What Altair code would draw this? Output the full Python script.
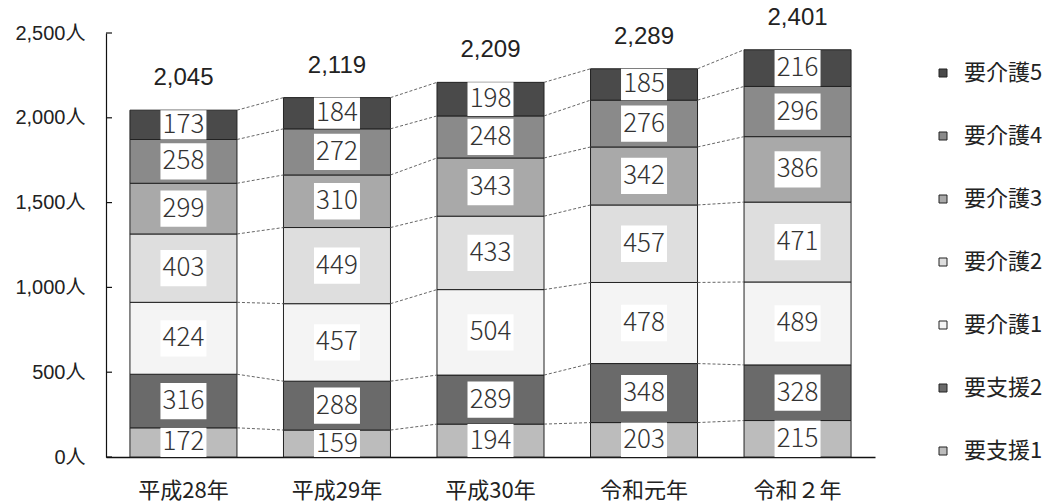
import altair as alt
import pandas as pd

categories = ["平成28年", "平成29年", "平成30年", "令和元年", "令和２年"]
series_names = ["要支援1", "要支援2", "要介護1", "要介護2", "要介護3", "要介護4", "要介護5"]
v_shien1 = [172, 159, 194, 203, 215]
v_shien2 = [316, 288, 289, 348, 328]
v_kaigo1 = [424, 457, 504, 478, 489]
v_kaigo2 = [403, 449, 433, 457, 471]
v_kaigo3 = [299, 310, 343, 342, 386]
v_kaigo4 = [258, 272, 248, 276, 296]
v_kaigo5 = [173, 184, 198, 185, 216]
y_ticks = [0, 500, 1000, 1500, 2000, 2500]
fills = ["#bcbcbc", "#6a6a6a", "#f4f4f4", "#dedede", "#a9a9a9", "#8a8a8a", "#4a4a4a"]

series_values = [v_shien1, v_shien2, v_kaigo1, v_kaigo2, v_kaigo3, v_kaigo4, v_kaigo5]

BOX_HALF = 107  # in data units

rows = []
cums = []
for i, c in enumerate(categories):
    cum = 0
    bounds = []
    for k, name in enumerate(series_names):
        v = series_values[k][i]
        lo, hi = cum, cum + v
        mid = (lo + hi) / 2
        rows.append(dict(cat=c, series=name, value=v, lo=lo, hi=hi, mid=mid,
                         blo=max(lo, mid - BOX_HALF), bhi=min(hi, mid + BOX_HALF), ord=k))
        cum = hi
        bounds.append(hi)
    cums.append(bounds)
df = pd.DataFrame(rows)

tot = pd.DataFrame(dict(cat=categories, total=[b[-1] for b in cums]))
tot["label"] = tot["total"].map(lambda t: f"{t:,}")

conn = []
for i in range(len(categories) - 1):
    for k in range(len(series_names)):
        conn.append(dict(cat=categories[i], nxt=categories[i + 1], y=cums[i][k], y2=cums[i + 1][k]))
conn = pd.DataFrame(conn)

ticks = pd.DataFrame(dict(v=y_ticks))

FONT = "Liberation Sans, Noto Sans CJK JP, sans-serif"

xscale = alt.Scale(domain=categories, paddingInner=0.303, paddingOuter=0.156)
yscale = alt.Scale(domain=[0, 2500], nice=False)

legend_order = series_names[::-1]
color = alt.Color("series:N",
                  scale=alt.Scale(domain=legend_order, range=fills[::-1]),
                  legend=alt.Legend(title=None, orient="none", legendX=826, legendY=29,
                                    symbolType="square", symbolSize=64,
                                    symbolStrokeColor="#222", symbolStrokeWidth=1,
                                    labelFontSize=22, labelFont="Noto Sans CJK JP",
                                    labelColor="#222", labelOffset=10, rowPadding=41,
                                    padding=0))

x_enc = alt.X("cat:N", scale=xscale, sort=categories,
              axis=alt.Axis(title=None, labelAngle=0, ticks=False, tickSize=0, bandPosition=0.5,
                            labelFontSize=22, labelFont="Noto Sans CJK JP",
                            labelColor="#222", labelPadding=33, labelBaseline="middle",
                            labelAlign="center",
                            domainColor="#111", domainWidth=1.5))

bars = alt.Chart(df).mark_bar(stroke="#222", strokeWidth=1).encode(
    x=x_enc,
    y=alt.Y("lo:Q", scale=yscale,
            axis=alt.Axis(title=None, values=y_ticks, grid=False, ticks=False, tickSize=0,
                          labelExpr="format(datum.value, ',') + '人'",
                          labelFontSize=20, labelFont=FONT, labelColor="#222",
                          labelPadding=21, domainColor="#111", domainWidth=1.2)),
    y2="hi:Q",
    fill=color,
)

boxes = alt.Chart(df).mark_bar(width=46, fill="white", strokeWidth=0).encode(
    x=alt.X("cat:N", scale=xscale, sort=categories),
    y=alt.Y("blo:Q", scale=yscale),
    y2="bhi:Q",
)

seg_labels = alt.Chart(df).mark_text(fontSize=26, font="Noto Sans CJK JP", fontWeight=300,
                                     color="#333", baseline="middle").encode(
    x=alt.X("cat:N", scale=xscale, sort=categories),
    y=alt.Y("mid:Q", scale=yscale),
    text="value:Q",
)

connectors = alt.Chart(conn).mark_rule(stroke="#555", strokeWidth=0.9, strokeDash=[3, 2]).encode(
    x=alt.X("cat:N", scale=xscale, sort=categories, bandPosition=1),
    x2=alt.X2("nxt", bandPosition=0),
    y=alt.Y("y:Q", scale=yscale),
    y2="y2:Q",
)

totals = alt.Chart(tot).mark_text(fontSize=24, font=FONT, color="#222", baseline="middle", dy=-32).encode(
    x=alt.X("cat:N", scale=xscale, sort=categories),
    y=alt.Y("total:Q", scale=yscale),
    text="label:N",
)

tick_marks = alt.Chart(ticks).mark_rule(stroke="#111", strokeWidth=1.2).encode(
    x=alt.value(0), x2=alt.value(6),
    y=alt.Y("v:Q", scale=yscale),
)

chart = alt.layer(bars, connectors, boxes, seg_labels, totals, tick_marks).properties(
    width=769, height=424,
    background="white",
    autosize=alt.AutoSizeParams(type="none"),
    padding={"left": 106, "top": 33, "right": 180, "bottom": 47},
).configure_view(stroke="transparent", strokeWidth=0)

chart.save("out.html", embed_options={"renderer": "svg", "actions": False})
